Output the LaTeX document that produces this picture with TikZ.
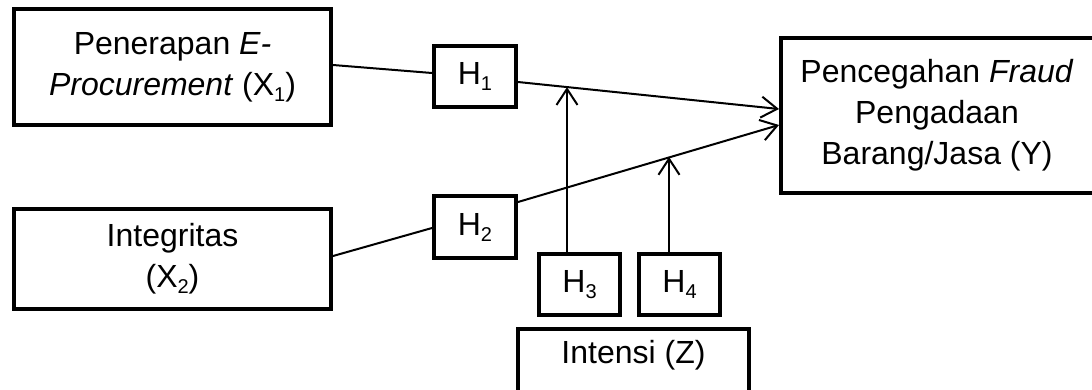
\documentclass[tikz,border=0pt]{standalone}
\usepackage{fontspec}
\setmainfont{Liberation Sans}
\usetikzlibrary{arrows.meta,calc}
\newcommand\sbs[1]{\raisebox{-6pt}{\fontsize{20}{20}\selectfont #1}}
\begin{document}
\begin{tikzpicture}[x=1pt,y=-1pt,
  box/.style={draw, line width=4pt, inner sep=0pt, align=center, font=\fontsize{32}{41}\selectfont},
  txt/.style={inner sep=0pt, align=center, font=\fontsize{32}{41}\selectfont},
  conn/.style={line width=2pt},
  arr/.style={line width=2pt, -{Straight Barb[length=16pt,width=21pt]}}]
\useasboundingbox (0,0) rectangle (1092,389);
\clip (0,0) rectangle (1092,389);
\node[box, minimum width=317pt, minimum height=116pt] (x1) at (172.5,67)
  {Penerapan \textit{E-}\\\textit{Procurement} (X\sbs{1})};
\node[box, minimum width=317pt, minimum height=100pt] (x2) at (172.5,259)
  {Integritas\\(X\sbs{2})};
\node[box, minimum width=82pt, minimum height=61pt] (h1) at (475,76.5) {H\sbs{1}};
\node[box, minimum width=82pt, minimum height=62pt] (h2) at (475,227) {H\sbs{2}};
\node[box, minimum width=81pt, minimum height=61pt] (h3) at (579.5,284.5) {H\sbs{3}};
\node[box, minimum width=81pt, minimum height=61pt] (h4) at (679.5,284.5) {H\sbs{4}};
\node[box, minimum width=340pt, minimum height=155pt, anchor=west] (y) at (779,115.5) {};
\node[txt] (yt) at (937,115.5)
  {Pencegahan \textit{Fraud}\\Pengadaan\\Barang/Jasa (Y)};
\node[box, minimum width=231pt, minimum height=90pt, anchor=north] (z) at (633.5,327) {};
\node[txt] (zt) at (633.5,355) {Intensi (Z)};
% connectors
\draw[conn] ([yshift=2pt]x1.east) -- ([yshift=3.5pt]h1.west);
\draw[conn] ([yshift=3pt]x2.east) -- ([yshift=-1pt]h2.west);
\draw[arr] ([yshift=-5.5pt]h1.east) -- ([yshift=6.5pt]y.west) coordinate[pos=0.19] (m1);
\draw[arr] ([yshift=25pt]h2.east) -- ([yshift=-9.5pt]y.west) coordinate[pos=0.585] (m2);
\coordinate (h3n) at ([xshift=-12.5pt]h3.north);
\coordinate (h4n) at ([xshift=-10.5pt]h4.north);
\draw[arr] (h3n) -- (h3n |- m1);
\draw[arr] (h4n) -- (h4n |- m2);
\end{tikzpicture}
\end{document}
